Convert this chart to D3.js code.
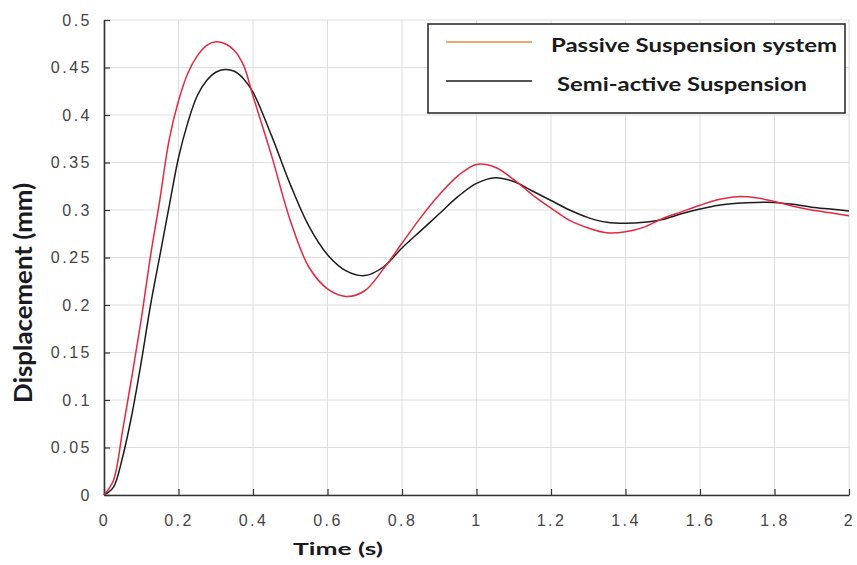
<!DOCTYPE html>
<html>
<head>
<meta charset="utf-8">
<script src="https://d3js.org/d3.v7.min.js"></script>
<style>
  html, body { margin: 0; padding: 0; background: #fff; }
  svg { display: block; }
</style>
</head>
<body>
<div id="chart"></div>
<script>
(function() {
  'use strict';

  // time (s)
  var time = [0, 0.025, 0.05, 0.075, 0.1, 0.125, 0.15, 0.175, 0.2, 0.225, 0.25, 0.275,
    0.3, 0.325, 0.35, 0.375, 0.4, 0.45, 0.5, 0.55, 0.6, 0.65, 0.7, 0.75, 0.8, 0.85,
    0.9, 0.95, 1.0, 1.05, 1.1, 1.15, 1.2, 1.25, 1.3, 1.35, 1.4, 1.45, 1.5, 1.55,
    1.6, 1.65, 1.7, 1.75, 1.8, 1.85, 1.9, 1.95, 2.0];

  // displacement (mm)
  var passive = [0, 0.015, 0.068, 0.125, 0.185, 0.252, 0.311, 0.374, 0.415, 0.444, 0.462, 0.473,
    0.477, 0.475, 0.468, 0.452, 0.420, 0.357, 0.289, 0.240, 0.217, 0.209, 0.215, 0.238, 0.265, 0.292,
    0.316, 0.336, 0.348, 0.345, 0.332, 0.316, 0.302, 0.289, 0.281, 0.276, 0.277, 0.282, 0.291, 0.298,
    0.305, 0.311, 0.314, 0.313, 0.309, 0.304, 0.300, 0.297, 0.294];

  var semiActive = [0, 0.008, 0.040, 0.085, 0.140, 0.200, 0.252, 0.304, 0.355, 0.392, 0.420, 0.436,
    0.445, 0.448, 0.446, 0.438, 0.424, 0.378, 0.327, 0.283, 0.253, 0.236, 0.231, 0.240, 0.260, 0.278,
    0.296, 0.314, 0.328, 0.334, 0.330, 0.320, 0.310, 0.300, 0.292, 0.287, 0.286, 0.287, 0.290, 0.296,
    0.301, 0.305, 0.307, 0.308, 0.308, 0.306, 0.303, 0.301, 0.299];

  var xTicks = [0, 0.2, 0.4, 0.6, 0.8, 1, 1.2, 1.4, 1.6, 1.8, 2];
  var yTicks = [0, 0.05, 0.1, 0.15, 0.2, 0.25, 0.3, 0.35, 0.4, 0.45, 0.5];

  var legendNames = ['Passive Suspension system', 'Semi-active Suspension'];

  var svgW = 857,
    svgH = 565,
    left = 104,
    right = 849,
    top = 20,
    bottom = 495;

  var svg = d3.select('#chart')
    .append('svg')
    .attr('width', svgW)
    .attr('height', svgH);

  var x = d3.scaleLinear().domain([0, 2]).range([left, right]);
  var y = d3.scaleLinear().domain([0, 0.5]).range([bottom, top]);

  var tickFont = '"Liberation Sans", Arial, sans-serif';
  var boldFont = 'Lato, "Open Sans", sans-serif';

  // grid
  svg.append('g')
    .selectAll('line')
    .data(xTicks)
    .enter()
    .append('line')
    .attr('x1', function(d) { return x(d); })
    .attr('x2', function(d) { return x(d); })
    .attr('y1', top)
    .attr('y2', bottom)
    .attr('stroke', '#dedede')
    .attr('stroke-width', 1);

  svg.append('g')
    .selectAll('line')
    .data(yTicks)
    .enter()
    .append('line')
    .attr('x1', left)
    .attr('x2', right)
    .attr('y1', function(d) { return y(d); })
    .attr('y2', function(d) { return y(d); })
    .attr('stroke', '#dedede')
    .attr('stroke-width', 1);

  // axes, ticks pointing inwards
  var xAxis = d3.axisBottom(x)
    .tickValues(xTicks)
    .tickSize(-6)
    .tickSizeOuter(0)
    .tickPadding(20)
    .tickFormat(d3.format('~g'));

  var yAxis = d3.axisLeft(y)
    .tickValues(yTicks)
    .tickSize(-6)
    .tickSizeOuter(0)
    .tickPadding(14)
    .tickFormat(d3.format('~g'));

  var gx = svg.append('g')
    .attr('transform', 'translate(0,' + bottom + ')')
    .call(xAxis);

  var gy = svg.append('g')
    .attr('transform', 'translate(' + left + ',0)')
    .call(yAxis);

  [gx, gy].forEach(function(g) {
    g.select('.domain').attr('stroke', '#333').attr('stroke-width', 1.6);
    g.selectAll('.tick line').attr('stroke', '#333').attr('stroke-width', 1.2);
    g.selectAll('.tick text')
      .attr('fill', '#444')
      .style('font-family', tickFont)
      .style('font-size', '16px')
      .style('letter-spacing', '2.5px');
  });
  gy.selectAll('.tick text').attr('dx', '2px');

  // lines
  var line = d3.line()
    .x(function(d) { return x(d[0]); })
    .y(function(d) { return y(d[1]); })
    .curve(d3.curveCatmullRom.alpha(0.5));

  svg.append('path')
    .datum(d3.zip(time, semiActive))
    .attr('d', line)
    .attr('fill', 'none')
    .attr('stroke', '#1c1c1c')
    .attr('stroke-width', 1.5);

  svg.append('path')
    .datum(d3.zip(time, passive))
    .attr('d', line)
    .attr('fill', 'none')
    .attr('stroke', '#e5283f')
    .attr('stroke-width', 1.5);

  // axis titles (the source picture is stretched sideways, hence textLength / scale)
  svg.append('text')
    .text('Time (s)')
    .attr('x', 293)
    .attr('y', 555)
    .attr('textLength', 90)
    .attr('lengthAdjust', 'spacingAndGlyphs')
    .attr('fill', '#1a1a24')
    .style('font-family', boldFont)
    .style('font-weight', 'bold')
    .style('font-size', '17px');

  svg.append('text')
    .text('Displacement (mm)')
    .attr('transform', 'translate(32,293) rotate(-90) scale(1,1.3)')
    .attr('x', -110)
    .attr('textLength', 220)
    .attr('lengthAdjust', 'spacingAndGlyphs')
    .attr('fill', '#1a1a24')
    .style('font-family', boldFont)
    .style('font-weight', 'bold')
    .style('font-size', '19px');

  // legend
  var legend = svg.append('g');

  legend.append('rect')
    .attr('x', 428)
    .attr('y', 24)
    .attr('width', 417)
    .attr('height', 89)
    .attr('fill', '#fff')
    .attr('stroke', '#222')
    .attr('stroke-width', 1.5);

  var legendColors = ['#ea8a3e', '#1c1c1c'];
  var legendRows = [42, 81];
  var legendTextX = [551, 557];
  var legendTextW = [286, 250];

  legend.selectAll('line')
    .data(legendNames)
    .enter()
    .append('line')
    .attr('x1', 446)
    .attr('x2', 532)
    .attr('y1', function(d, i) { return legendRows[i]; })
    .attr('y2', function(d, i) { return legendRows[i]; })
    .attr('stroke', function(d, i) { return legendColors[i]; })
    .attr('stroke-width', 1.5);

  legend.selectAll('text')
    .data(legendNames)
    .enter()
    .append('text')
    .text(function(d) { return d; })
    .attr('x', function(d, i) { return legendTextX[i]; })
    .attr('y', function(d, i) { return legendRows[i] + 10; })
    .attr('textLength', function(d, i) { return legendTextW[i]; })
    .attr('lengthAdjust', 'spacingAndGlyphs')
    .attr('fill', '#1a1a1a')
    .style('font-family', boldFont)
    .style('font-weight', 'bold')
    .style('font-size', '19.5px');

}());
</script>
</body>
</html>
